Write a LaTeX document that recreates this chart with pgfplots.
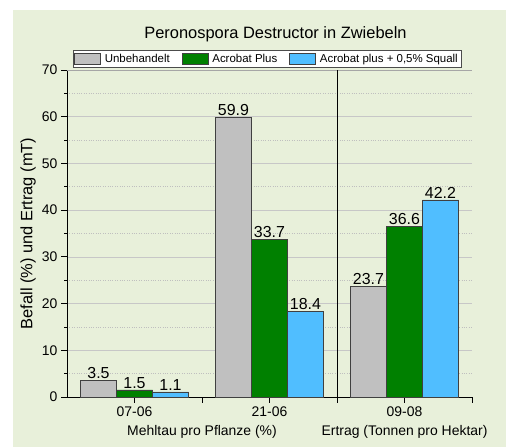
\documentclass[border=0pt]{standalone}
\usepackage{fontspec}
\setmainfont{Liberation Sans}
\usepackage{pgfplots}
\pgfplotsset{compat=1.18}
\definecolor{bgc}{RGB}{232,240,218}
\definecolor{cgray}{RGB}{192,192,192}
\definecolor{cgreen}{RGB}{0,128,0}
\definecolor{cblue}{RGB}{80,190,255}
\begin{document}
\begin{tikzpicture}[x=1bp,y=1bp]
\path[use as bounding box] (0,0) rectangle (506,448);
\fill[bgc] (13,1) rectangle (506,438);
\begin{axis}[at={(67bp,51bp)}, anchor=south west, scale only axis,
  width=405bp, height=327bp,
  xmin=-0.5, xmax=2.5, ymin=0, ymax=70,
  clip=false,
  ybar=0pt, bar width=36bp,
  axis lines*=left, axis line style={-, black, line width=0.8pt},
  xtick={0,1,2}, xticklabels={07-06,21-06,09-08},
  extra x ticks={0.5,1.5,2.5}, extra x tick labels={},
  extra x tick style={grid=none},
  ytick={0,10,...,70}, minor ytick={5,15,...,65},
  ymajorgrids, yminorgrids,
  major grid style={black!22, line width=0.6pt},
  minor grid style={black!25, dotted, line width=0.6pt},
  tick align=outside, major tick length=6bp, minor tick length=3bp,
  tick style={black, line width=0.8pt},
  ticklabel style={font=\fontsize{14}{14}\selectfont},
  /pgf/number format/assume math mode=true,
  ylabel={Befall (\%) und Ertrag (mT)},
  ylabel style={font=\fontsize{16.5}{16.5}\selectfont, at={(axis description cs:-0.0963,0.5)}, anchor=center},
  title={Peronospora Destructor in Zwiebeln},
  title style={font=\fontsize{16.5}{16.5}\selectfont, at={(0.5,1)}, anchor=south, yshift=19bp, xshift=6bp},
  legend columns=3,
  legend style={at={(0.5,1)}, anchor=south, yshift=3bp, xshift=-2.5bp,
    draw=black!70, fill=white, font=\fontsize{11.5}{12}\selectfont,
    inner sep=1.5bp, outer sep=0pt,
    /tikz/every odd column/.append style={column sep=2bp},
    /tikz/every even column/.append style={column sep=10bp}},
  legend image code/.code={\draw[#1] (0bp,-5.5bp) rectangle (26bp,5.5bp);},
  nodes near coords,
  nodes near coords style={font=\fontsize{16}{16}\selectfont, black, inner sep=1.5bp},
  every axis plot/.append style={draw=black!75, line width=0.6pt},
]
\addplot[fill=cgray] coordinates {(0,3.5) (1,59.9) (2,23.7)};
\addplot[fill=cgreen] coordinates {(0,1.5) (1,33.7) (2,36.6)};
\addplot[fill=cblue] coordinates {(0,1.1) (1,18.4) (2,42.2)};
\legend{Unbehandelt, Acrobat Plus, {Acrobat plus + 0,5\% Squall}}
\draw[black!35, line width=0.8pt] (rel axis cs:0,1) -- (rel axis cs:1,1);
\draw[black, line width=0.8pt] (axis cs:1.5,0) -- (axis cs:1.5,70);
\node[font=\fontsize{14}{14}\selectfont] at (axis cs:0.5,0) [yshift=-35bp] {Mehltau pro Pflanze (\%)};
\node[font=\fontsize{14}{14}\selectfont] at (axis cs:2,0) [yshift=-35bp] {Ertrag (Tonnen pro Hektar)};
\end{axis}
\end{tikzpicture}
\end{document}
